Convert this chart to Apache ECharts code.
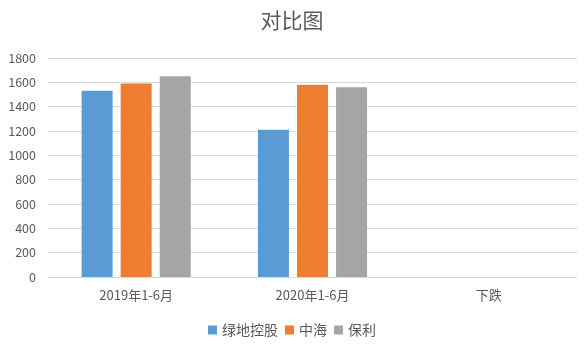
<!DOCTYPE html>
<html><head><meta charset="utf-8">
<script src="https://cdn.jsdelivr.net/npm/echarts@6/dist/echarts.min.js"></script>
<style>html,body{margin:0;padding:0;background:#fff}#c{width:584px;height:352px}</style>
</head><body><div id="c"></div>
<script>
const categories = ['2019年1-6月', '2020年1-6月', '下跌'];
const seriesNames = ['绿地控股', '中海', '保利'];
const lvdi = [1530, 1210, null];
const zhonghai = [1590, 1580, null];
const baoli = [1650, 1560, null];
const yTicks = [0, 1800, 200];
const colors = ['#5B9BD5', '#ED7D31', '#A5A5A5'];
const font = '"Noto Sans CJK SC", "Noto Sans", sans-serif';

const chart = echarts.init(document.getElementById('c'), null, {renderer: 'canvas'});
const values = [lvdi, zhonghai, baoli];
chart.setOption({
  animation: false,
  color: colors,
  title: {text: '对比图', left: 'center', top: 5,
    textStyle: {fontFamily: font, fontSize: 21, fontWeight: 'normal', color: '#595959'}},
  legend: {bottom: 10, left: 'center', itemWidth: 9, itemHeight: 9, itemGap: 7,
    icon: 'rect', textStyle: {fontFamily: font, fontSize: 14, color: '#595959'},
    data: seriesNames},
  grid: {left: 48, right: 7, top: 58, bottom: 75, containLabel: false},
  xAxis: {type: 'category', data: categories,
    axisLine: {lineStyle: {color: '#D9D9D9'}}, axisTick: {show: false},
    axisLabel: {fontFamily: font, fontSize: 13, color: '#595959', margin: 12}},
  yAxis: {type: 'value', min: yTicks[0], max: yTicks[1], interval: yTicks[2],
    axisLine: {show: false}, axisTick: {show: false},
    splitLine: {lineStyle: {color: '#D9D9D9'}},
    axisLabel: {fontFamily: font, fontSize: 12.5, color: '#595959', margin: 12,
      formatter: v => String(v)}},
  series: seriesNames.map((n, i) => ({
    name: n, type: 'bar', data: values[i], barWidth: 31, barGap: '26%',
    itemStyle: {color: colors[i]}
  }))
});
</script></body></html>
